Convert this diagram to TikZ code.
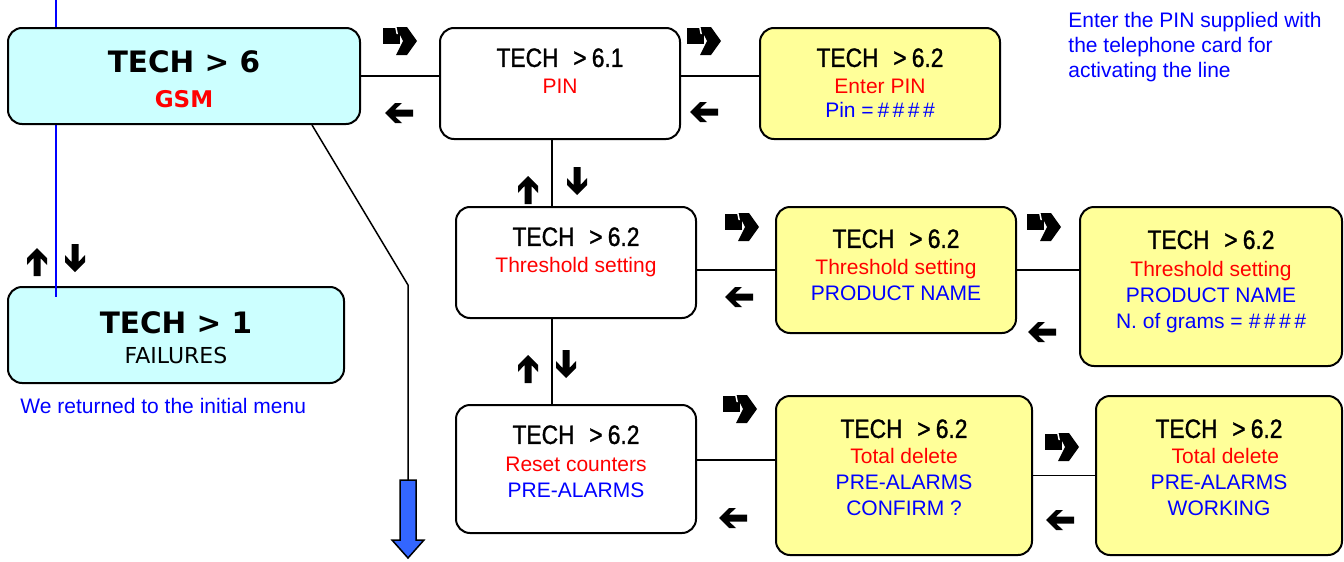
\documentclass[tikz,border=0pt]{standalone}
\usepackage{fontspec}
\setmainfont{Liberation Sans}
\newfontfamily\titlefont[FakeStretch=0.86,FakeBold=1.2]{Liberation Sans}
\newfontfamily\menufont{DejaVu Sans}
\usetikzlibrary{positioning}
\definecolor{gsmcyan}{RGB}{204,255,255}
\definecolor{pinyellow}{RGB}{255,255,153}
\definecolor{exitblue}{RGB}{51,102,255}
\newcommand{\techline}[1]{{\titlefont\fontsize{13.25}{13}\selectfont TECH\hspace{0.55em}>\hspace{0.2em}#1}}

\begin{document}
\begin{tikzpicture}[x=0.5pt,y=-0.5pt,font=\fontsize{10.5}{13}\selectfont,
wbox/.style={draw,line width=1pt,rounded corners=7pt,fill=white,inner sep=0pt},
cbox/.style={wbox,fill=gsmcyan},
ybox/.style={wbox,fill=pinyellow},
txt/.style={anchor=north,align=center,inner sep=0pt},
note/.style={inner sep=0pt,text=blue},
conn/.style={line width=0.75pt},
barr/.pic={\fill (0,1) rectangle (17,17);
  \fill (13,0) -- (24,0) -- (34,14) -- (24,28) -- (13,28) -- (20,14) -- cycle;
  \fill[white] (12,0) -- (13.5,0) -- (15,7) -- (13.5,7) -- cycle;},
larr/.pic={\fill (0,0) -- (10,-10) -- (17,-10) -- (10,-3.5) -- (28,-3.5) -- (28,3.5) -- (10,3.5) -- (17,10) -- (10,10) -- cycle;}]
\useasboundingbox (0,0) rectangle (1344,562);

% main menu
\node[cbox,minimum width=168pt,minimum height=48pt] (fail) at (176,335) {};
\coordinate (menutop) at (56,0);
\coordinate (menuend) at (56,297);
\draw[blue,line width=1pt] (menutop) -- (menuend);
\node[cbox,minimum width=176pt,minimum height=48pt] (gsm) at (184,76) {};
\node[txt,below=11.75pt of gsm.north] (gsm-t) {{\menufont\bfseries\fontsize{14.75}{13}\selectfont TECH > 6}\\[4.5pt]{\menufont\bfseries\fontsize{11.5}{13}\selectfont\color{red}GSM}};
\node[txt,below=12.75pt of fail.north] (fail-t) {{\menufont\bfseries\fontsize{14.75}{13}\selectfont TECH > 1}\\[2pt]{\menufont\fontsize{11}{13}\selectfont FAILURES}};

% PIN
\node[wbox,minimum width=120pt,minimum height=55.5pt] (pin) at (560,83.5) {};
\node[txt,below=10.5pt of pin.north] (pin-t) {\techline{6.1}\\[0.5pt]\textcolor{red}{PIN}};
\node[ybox,minimum width=120pt,minimum height=55.5pt] (epin) at (880,83.5) {};
\node[txt,below=10.5pt of epin.north] (epin-t) {\techline{6.2}\\[0.5pt]\textcolor{red}{Enter PIN}\\[-1pt]\textcolor{blue}{Pin =\textit{\,\#\,\#\,\#\,\#}}};

% threshold
\node[wbox,minimum width=120pt,minimum height=55.5pt] (thr) at (576,262.5) {};
\node[txt,below=10.5pt of thr.north] (thr-t) {\techline{6.2}\\[0.5pt]\textcolor{red}{Threshold setting}};
\node[ybox,minimum width=120pt,minimum height=63pt] (prod) at (896,270) {};
\node[txt,below=11.5pt of prod.north] (prod-t) {\techline{6.2}\\[0.5pt]\textcolor{red}{Threshold setting}\\\textcolor{blue}{PRODUCT NAME}};
\node[ybox,minimum width=131pt,minimum height=79.5pt] (grams) at (1211,286.5) {};
\node[txt,below=12pt of grams.north] (grams-t) {\techline{6.2}\\[1pt]\textcolor{red}{Threshold setting}\\\textcolor{blue}{PRODUCT NAME}\\\textcolor{blue}{N. of grams = \textit{\#\,\#\,\#\,\#}}};

% reset counters
\node[wbox,minimum width=120pt,minimum height=64pt] (rst) at (576,469) {};
\node[txt,below=10.5pt of rst.north] (rst-t) {\techline{6.2}\\[1pt]\textcolor{red}{Reset counters}\\\textcolor{blue}{PRE-ALARMS}};
\node[ybox,minimum width=128pt,minimum height=79.5pt] (conf) at (904,475.5) {};
\node[txt,below=12pt of conf.north] (conf-t) {\techline{6.2}\\\textcolor{red}{Total delete}\\\textcolor{blue}{PRE-ALARMS}\\\textcolor{blue}{CONFIRM ?}};
\node[ybox,minimum width=123pt,minimum height=79.5pt] (work) at (1219,475.5) {};
\node[txt,below=12pt of work.north] (work-t) {\techline{6.2}\\\textcolor{red}{\hspace*{0.6em}Total delete}\\\textcolor{blue}{PRE-ALARMS}\\\textcolor{blue}{WORKING}};

% notes
\node[note,anchor=north west,align=left,font=\fontsize{10.5}{12.5}\selectfont] (pin-note) at (1068,12) {Enter the PIN supplied with\\the telephone card for\\activating the line};
\node[note,anchor=base west] (menu-note) at (20,413) {We returned to the initial menu};

% connectors
\draw[conn] (gsm.east) -- (gsm.east -| pin.west);
\draw[conn] (pin.east |- gsm.east) -- (epin.west |- gsm.east);
\draw[conn] ([xshift=-4pt]pin.south) -- ([xshift=-4pt]pin.south |- thr.north);
\draw[conn] ([xshift=-12pt]thr.south) -- ([xshift=-12pt]thr.south |- rst.north);
\draw[conn] (thr.east |- prod.west) -- (prod.west);
\draw[conn] (prod.east) -- (prod.east -| grams.west);
\draw[conn] ([yshift=4.5pt]rst.east) -- ([yshift=4.5pt]rst.east -| conf.west);
\draw[conn] (conf.east) -- (conf.east -| work.west);

% exit to next page
\coordinate (bend) at (408,285);
\coordinate (exit) at (408,480);
\draw[conn] ([xshift=64pt]gsm.south) -- (bend) -- (exit);
\draw[line width=0.75pt,fill=exitblue] ([xshift=-4pt]exit) -- ++(16,0) -- ++(0,60) -- ++(8,0) -- ++(-16,18) -- ++(-16,-18) -- ++(8,0) -- cycle;

% key arrows
\pic at (383,27) {barr};
\pic at (687,27) {barr};
\pic at (725,213) {barr};
\pic at (1027,213) {barr};
\pic at (723,395) {barr};
\pic at (1045,433) {barr};
\pic at (385,113) {larr};
\pic at (690,112) {larr};
\pic at (725,297) {larr};
\pic at (1028,332) {larr};
\pic at (719,518) {larr};
\pic at (1046,520) {larr};
\pic[rotate=-90] at (528,176) {larr};
\pic[rotate=90] at (577,195) {larr};
\pic[rotate=-90] at (528,355) {larr};
\pic[rotate=90] at (566,378) {larr};
\pic[rotate=-90] at (37,248) {larr};
\pic[rotate=90] at (75,272) {larr};
\end{tikzpicture}
\end{document}
